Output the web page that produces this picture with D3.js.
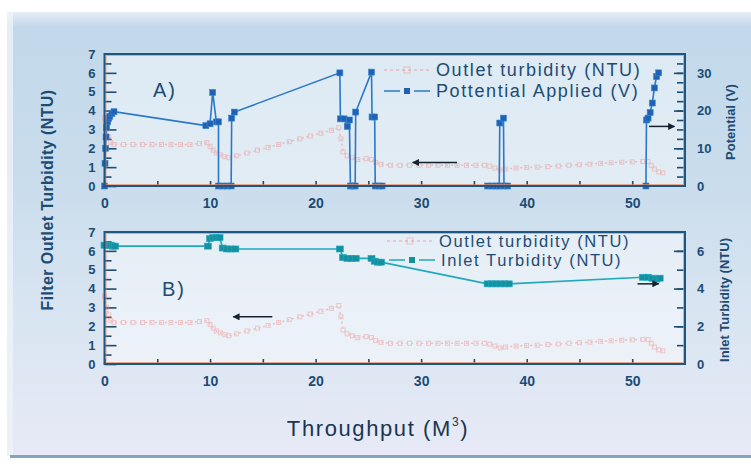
<!DOCTYPE html>
<html>
<head>
<meta charset="utf-8">
<script src="https://cdn.jsdelivr.net/npm/d3@7/dist/d3.min.js"></script>
<style>
  html, body { margin: 0; padding: 0; background: #fff; }
  svg { display: block; font-family: "Liberation Sans", Arial, sans-serif; }
</style>
</head>
<body>
<svg id="chart" width="751" height="464"></svg>
<script>
// Throughput (m³) vs. potential applied (V) — panel A
const potX = [0, 0.05, 0.1, 0.15, 0.2, 0.3, 0.4, 0.5, 0.7, 0.9,
  9.6, 10.0, 10.25, 10.6, 10.8, 10.8, 11.2, 11.6, 12.0, 12.05, 12.3,
  22.3, 22.35, 22.7, 23.0, 23.2, 23.3, 23.55, 23.75, 23.8, 25.3, 25.35, 25.6, 25.65, 26.0, 26.3,
  36.3, 36.7, 37.1, 37.4, 37.45, 37.8, 37.85, 38.2,
  51.3, 51.35, 51.5, 51.7, 51.9, 52.1, 52.3, 52.5];
const potV = [0, 6, 10, 13, 15.5, 17, 18, 18.5, 19.2, 19.7,
  16, 16.5, 24.8, 17, 17, 0, 0, 0, 0, 18, 19.6,
  30, 17.8, 17.8, 15.8, 17.5, 0, 0, 0, 19.6, 30.2, 18.3, 18.3, 0, 0, 0,
  0, 0, 0, 0, 16.7, 18, 0, 0,
  0, 17.5, 18, 19.5, 22, 26, 29, 30];

// Outlet turbidity (NTU), shared by both panels
const outX = [0, 0.2, 0.4, 0.6, 0.9, 1.8, 2.7, 3.6, 4.5, 5.4, 6.3, 7.2, 8.1, 9.0, 9.7,
  10.0, 10.3, 10.6, 11.0, 11.4, 11.8, 12.5, 13.5, 14.5, 15.5, 16.5, 17.5, 18.5, 19.5, 20.5, 21.5, 22.2,
  22.4, 22.6, 23.0, 23.5, 24.0, 24.8, 25.3, 25.7, 26.2, 27.1, 28.0, 28.9, 29.8, 30.7, 31.6, 32.5, 33.4, 34.3, 35.2, 36.0,
  36.5, 37.0, 37.5, 38.0, 39.0, 40.0, 41.0, 42.0, 43.0, 44.0, 45.0, 46.0, 47.0, 48.0, 49.0, 50.0, 51.0,
  51.5, 51.8, 52.1, 52.5, 52.9];
const outNTU = [3.6, 3.0, 2.6, 2.3, 2.2, 2.2, 2.2, 2.2, 2.2, 2.2, 2.2, 2.2, 2.2, 2.25, 2.3,
  2.1, 1.9, 1.75, 1.65, 1.55, 1.5, 1.6, 1.75, 1.9, 2.05, 2.2, 2.35, 2.5, 2.65, 2.8, 2.95, 3.1,
  2.5, 1.8, 1.6, 1.5, 1.4, 1.45, 1.4, 1.25, 1.15, 1.1, 1.1, 1.1, 1.1, 1.1, 1.1, 1.1, 1.1, 1.1, 1.1, 1.1,
  1.05, 0.95, 0.85, 0.9, 0.95, 0.98, 1.0, 1.03, 1.06, 1.1, 1.13, 1.16, 1.2, 1.23, 1.26, 1.28, 1.3,
  1.3, 1.1, 0.9, 0.75, 0.7];

// Inlet turbidity (NTU) — panel B
const inX = [0, 0.2, 0.4, 0.6, 0.8, 1.0, 9.8, 10.0, 10.3, 10.6, 10.9, 11.2, 11.6, 12.0, 12.4,
  22.3, 22.6, 23.0, 23.4, 23.8, 25.3, 25.6, 25.9, 26.2,
  36.3, 36.7, 37.1, 37.5, 37.9, 38.3, 51.0, 51.5, 51.9, 52.3, 52.6];
const inNTU = [6.3, 6.3, 6.3, 6.3, 6.25, 6.25, 6.25, 6.65, 6.7, 6.7, 6.7, 6.15, 6.1, 6.1, 6.1,
  6.1, 5.65, 5.6, 5.6, 5.6, 5.6, 5.45, 5.4, 5.4,
  4.25, 4.25, 4.25, 4.25, 4.25, 4.25, 4.6, 4.6, 4.55, 4.5, 4.55];

const xTicks = [0, 10, 20, 30, 40, 50];
const ntuTicks = [0, 1, 2, 3, 4, 5, 6, 7];
const voltTicks = [0, 10, 20, 30];
const inletTicks = [0, 2, 4, 6];

const svg = d3.select("#chart");
const ink = "#1c4c74";

// ---------- backdrop ----------
const defs = svg.append("defs");
const bg = defs.append("linearGradient").attr("id", "bg").attr("x1", 0).attr("y1", 0).attr("x2", 0).attr("y2", 1);
bg.append("stop").attr("offset", 0).attr("stop-color", "#c2d8ea");
bg.append("stop").attr("offset", 0.35).attr("stop-color", "#c8dcec");
bg.append("stop").attr("offset", 0.7).attr("stop-color", "#dae5f2");
bg.append("stop").attr("offset", 1).attr("stop-color", "#e7eaf6");
const topBand = defs.append("linearGradient").attr("id", "topband").attr("x1", 0).attr("y1", 0).attr("x2", 0).attr("y2", 1);
topBand.append("stop").attr("offset", 0).attr("stop-color", "#e4edf5");
topBand.append("stop").attr("offset", 1).attr("stop-color", "#c4d9eb");

svg.append("rect").attr("width", 751).attr("height", 464).attr("fill", "#ffffff");
svg.append("rect").attr("x", 7).attr("y", 12).attr("width", 744).attr("height", 444).attr("fill", "url(#bg)");
svg.append("rect").attr("x", 7).attr("y", 12).attr("width", 744).attr("height", 14).attr("fill", "url(#topband)");
svg.append("rect").attr("x", 7).attr("y", 12).attr("width", 6).attr("height", 444).attr("fill", "#eef3f8").attr("opacity", 0.8);
svg.append("rect").attr("x", 10).attr("y", 455).attr("width", 741).attr("height", 3).attr("fill", "#86a3bd");

// ---------- scales ----------
const x = d3.scaleLinear().domain([0, 55]).range([104.5, 685]);
const yA = d3.scaleLinear().domain([0, 7]).range([186, 54]);
const yV = d3.scaleLinear().domain([0, 35]).range([186, 54]);
const yB = d3.scaleLinear().domain([0, 7]).range([364, 232]);
const yIn = d3.scaleLinear().domain([0, 7]).range([364, 232]);

function frame(y) {
  const [b, t] = y.range();
  svg.append("rect").attr("x", x(0)).attr("y", t).attr("width", x(55) - x(0)).attr("height", b - t)
    .attr("fill", "#ffffff").attr("opacity", 0.45);
}
frame(yA);
frame(yB);

function styleAxis(g, size) {
  g.select(".domain").remove();
  g.selectAll("line").attr("stroke", ink).attr("stroke-width", 1.6);
  g.selectAll("text").attr("fill", ink).attr("font-size", size || 13).attr("font-weight", "bold");
}

function drawAxes(y, yRight, rightTicks, rightMinorStep, rightMax) {
  const [b] = y.range();
  // bottom: minor ticks every 5, labels every 10
  svg.append("g").attr("transform", `translate(0,${b})`)
    .call(d3.axisBottom(x).tickValues(d3.range(0, 55, 5)).tickSize(-5).tickFormat(""))
    .call(g => styleAxis(g));
  svg.append("g").attr("transform", `translate(0,${b})`)
    .call(d3.axisBottom(x).tickValues(xTicks).tickSize(0).tickPadding(12).tickFormat(d3.format("d")))
    .call(g => styleAxis(g, 14));
  // left
  svg.append("g").attr("transform", `translate(${x(0)},0)`)
    .call(d3.axisLeft(y).tickValues(d3.range(0.5, 7, 1)).tickSize(-7).tickFormat(""))
    .call(g => styleAxis(g));
  svg.append("g").attr("transform", `translate(${x(0)},0)`)
    .call(d3.axisLeft(y).tickValues(ntuTicks).tickSize(-12).tickPadding(9).tickFormat(d3.format("d")))
    .call(g => styleAxis(g))
    .call(g => g.selectAll(".tick").filter(d => d === 7).select("line").remove());
  // right
  svg.append("g").attr("transform", `translate(${x(55)},0)`)
    .call(d3.axisRight(yRight).tickValues(d3.range(rightMinorStep, rightMax, rightMinorStep)).tickSize(-8).tickFormat(""))
    .call(g => styleAxis(g));
  svg.append("g").attr("transform", `translate(${x(55)},0)`)
    .call(d3.axisRight(yRight).tickValues(rightTicks).tickSize(-11).tickPadding(12).tickFormat(d3.format("d")))
    .call(g => styleAxis(g))
    .call(g => g.selectAll(".tick").filter(d => d === 0).select("line").remove());
}

drawAxes(yA, yV, voltTicks, 2.5, 35);
drawAxes(yB, yIn, inletTicks, 1, 7);

// ---------- outlet turbidity (both panels) ----------
const outPts = outX.map((v, i) => [v, outNTU[i]]);
function drawOutlet(y) {
  const g = svg.append("g").attr("opacity", 0.45);
  g.append("path").datum(outPts)
    .attr("d", d3.line().x(d => x(d[0])).y(d => y(d[1])))
    .attr("fill", "none").attr("stroke", "#f0807c").attr("stroke-width", 1.5)
    .attr("stroke-dasharray", "2,3");
  g.selectAll("rect").data(outPts).join("rect")
    .attr("x", d => x(d[0]) - 2).attr("y", d => y(d[1]) - 2)
    .attr("width", 4).attr("height", 4)
    .attr("fill", "none").attr("stroke", "#f0908c").attr("stroke-width", 1);
}
drawOutlet(yA);
drawOutlet(yB);

// ---------- potential applied ----------
const potPts = potX.map((v, i) => [v, potV[i]]);
svg.append("path").datum(potPts)
  .attr("d", d3.line().x(d => x(d[0])).y(d => yV(d[1])))
  .attr("fill", "none").attr("stroke", "#2a78c8").attr("stroke-width", 1.6);
svg.append("g").selectAll("rect").data(potPts).join("rect")
  .attr("x", d => x(d[0]) - 3).attr("y", d => yV(d[1]) - 3)
  .attr("width", 6).attr("height", 6)
  .attr("fill", "#1f62b4").attr("stroke", "#3a86d4").attr("stroke-width", 0.6);

// ---------- inlet turbidity ----------
const inPts = inX.map((v, i) => [v, inNTU[i]]);
svg.append("path").datum(inPts)
  .attr("d", d3.line().x(d => x(d[0])).y(d => yIn(d[1])))
  .attr("fill", "none").attr("stroke", "#1ea9bf").attr("stroke-width", 1.6);
svg.append("g").selectAll("rect").data(inPts).join("rect")
  .attr("x", d => x(d[0]) - 3.5).attr("y", d => yIn(d[1]) - 3)
  .attr("width", 7).attr("height", 6)
  .attr("fill", "#14909f").attr("stroke", "#1ea9bf").attr("stroke-width", 0.6);

// ---------- frames ----------
[yA, yB].forEach(y => {
  const [b, t] = y.range();
  svg.append("rect").attr("x", x(0) + 1.5).attr("y", t + 1.5)
    .attr("width", x(55) - x(0) - 3).attr("height", b - t - 3)
    .attr("fill", "none").attr("stroke", "#e88a62").attr("stroke-width", 1).attr("opacity", 0.7);
  svg.append("rect").attr("x", x(0)).attr("y", t).attr("width", x(55) - x(0)).attr("height", b - t)
    .attr("fill", "none").attr("stroke", "#1d5680").attr("stroke-width", 2);
});

// ---------- arrows ----------
defs.append("marker").attr("id", "head").attr("viewBox", "0 0 10 10")
  .attr("refX", 9).attr("refY", 5).attr("markerWidth", 9).attr("markerHeight", 7)
  .attr("markerUnits", "userSpaceOnUse").attr("orient", "auto")
  .append("path").attr("d", "M0,0 L10,5 L0,10 Z").attr("fill", "#14222e");
function arrow(x1, y1, x2, y2) {
  svg.append("line").attr("x1", x1).attr("y1", y1).attr("x2", x2).attr("y2", y2)
    .attr("stroke", "#14222e").attr("stroke-width", 1.5).attr("marker-end", "url(#head)");
}
arrow(x(33.4), yA(1.25), x(29.2), yA(1.25));
arrow(x(51.6), yV(15.8), x(54.0), yV(15.8));
arrow(x(15.9), yB(2.5), x(12.2), yB(2.5));
arrow(x(50.5), yIn(4.25), x(52.5), yIn(4.25));

// ---------- panel letters ----------
svg.append("text").attr("x", 153).attr("y", 97).text("A)")
  .attr("fill", ink).attr("font-size", 20).attr("letter-spacing", 2);
svg.append("text").attr("x", 162).attr("y", 296).text("B)")
  .attr("fill", ink).attr("font-size", 20).attr("letter-spacing", 2);

// ---------- legends ----------
function legendRow(x0, y0, label, color, dash, filled, size) {
  const g = svg.append("g");
  if (dash) {
    g.append("line").attr("x1", x0 - 52).attr("x2", x0 - 6).attr("y1", y0).attr("y2", y0)
      .attr("stroke", color).attr("stroke-width", 1.4).attr("stroke-dasharray", "3,3").attr("opacity", 0.5);
    g.append("rect").attr("x", x0 - 32).attr("y", y0 - 3).attr("width", 6).attr("height", 6)
      .attr("fill", "none").attr("stroke", color).attr("opacity", 0.5);
  } else {
    g.append("line").attr("x1", x0 - 52).attr("x2", x0 - 36).attr("y1", y0).attr("y2", y0)
      .attr("stroke", color).attr("stroke-width", 1.5);
    g.append("line").attr("x1", x0 - 22).attr("x2", x0 - 6).attr("y1", y0).attr("y2", y0)
      .attr("stroke", color).attr("stroke-width", 1.5);
    g.append("rect").attr("x", x0 - 32).attr("y", y0 - 3).attr("width", 6).attr("height", 6)
      .attr("fill", filled);
  }
  g.append("text").attr("x", x0).attr("y", y0 + 6).text(label)
    .attr("fill", ink).attr("font-size", size).attr("letter-spacing", 1.6);
}
legendRow(436, 70, "Outlet turbidity (NTU)", "#f08f8c", true, null, 18);
legendRow(436, 91, "Pottential Applied (V)", "#2a78c8", false, "#1f62b4", 18);
legendRow(439, 241, "Outlet turbidity (NTU)", "#f08f8c", true, null, 16.5);
legendRow(441, 260, "Inlet Turbidity (NTU)", "#1ea9bf", false, "#14909f", 16.5);

// ---------- axis titles ----------
svg.append("text").attr("transform", "translate(53,200) rotate(-90)")
  .attr("text-anchor", "middle").text("Filter Outlet Turbidity (NTU)")
  .attr("fill", ink).attr("font-size", 16).attr("font-weight", "bold").attr("letter-spacing", 0.4);
svg.append("text").attr("transform", "translate(735,122) rotate(-90)")
  .attr("text-anchor", "middle").text("Potential (V)")
  .attr("fill", ink).attr("font-size", 13).attr("font-weight", "bold");
svg.append("text").attr("transform", "translate(729,300) rotate(-90)")
  .attr("text-anchor", "middle").text("Inlet Turbidity (NTU)")
  .attr("fill", ink).attr("font-size", 13).attr("font-weight", "bold");
const xt = svg.append("text").attr("x", 378).attr("y", 436).attr("text-anchor", "middle")
  .attr("fill", "#1a3650").attr("font-size", 22).attr("letter-spacing", 1.6);
xt.append("tspan").text("Throughput (M");
xt.append("tspan").attr("font-size", 12).attr("dy", -10).text("3");
xt.append("tspan").attr("dy", 10).text(")");
</script>
</body>
</html>
